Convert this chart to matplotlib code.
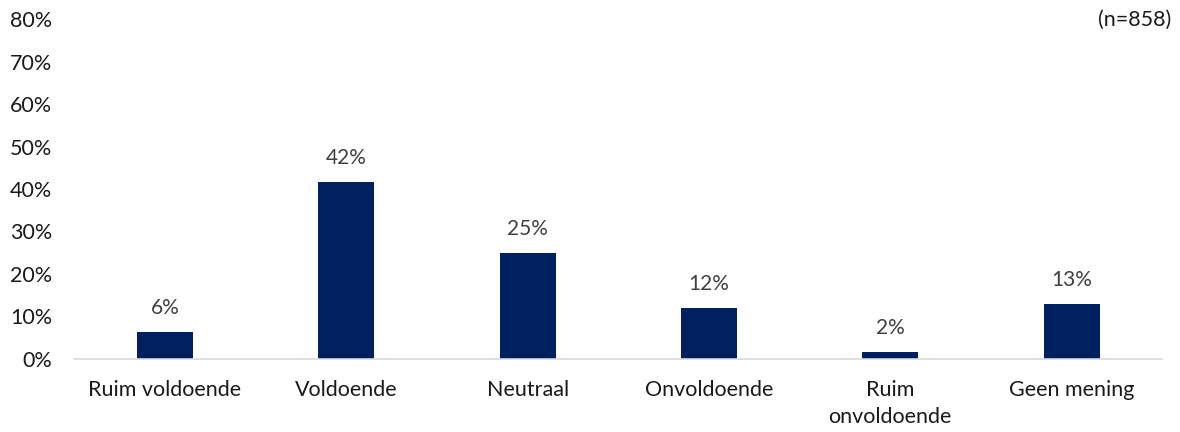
import matplotlib.pyplot as plt
import numpy as np

plt.rcParams['font.family'] = ['Lato', 'DejaVu Sans']

categories = ['Ruim voldoende', 'Voldoende', 'Neutraal', 'Onvoldoende',
              'Ruim\nonvoldoende', 'Geen mening']
values = [6.4, 41.7, 25.0, 12.0, 1.6, 13.0]
labels = ['6%', '42%', '25%', '12%', '2%', '13%']
yticks = [0, 10, 20, 30, 40, 50, 60, 70, 80]

fig = plt.figure(figsize=(11.8, 4.32), dpi=100)
ax = fig.add_axes([0.063, 0.169, 0.922, 0.787])

x = np.arange(len(categories))
ax.bar(x, values, width=0.31, color='#002060')

for xi, v, lab in zip(x, values, labels):
    ax.text(xi, v + 3.3, lab, ha='center', va='bottom', fontsize=15, color='#404040')

ax.set_xlim(-0.5, len(categories) - 0.5)
ax.set_ylim(0, 80)
ax.set_yticks(yticks)
ax.set_yticklabels([f'{t}%' for t in yticks], fontsize=15.5, color='#1a1a1a')
ax.set_xticks(x)
ax.set_xticklabels(categories, fontsize=15.5, color='#1a1a1a', linespacing=1.45)
ax.tick_params(axis='both', length=0)
ax.tick_params(axis='x', pad=15)
ax.tick_params(axis='y', pad=16)

for s in ['top', 'right', 'left']:
    ax.spines[s].set_visible(False)
ax.spines['bottom'].set_color('#d9d9d9')
ax.spines['bottom'].set_linewidth(1.2)

fig.text(0.993, 0.955, '(n=858)', ha='right', va='center', fontsize=15.5, color='#1a1a1a')

fig.savefig('out.png', dpi=100)
